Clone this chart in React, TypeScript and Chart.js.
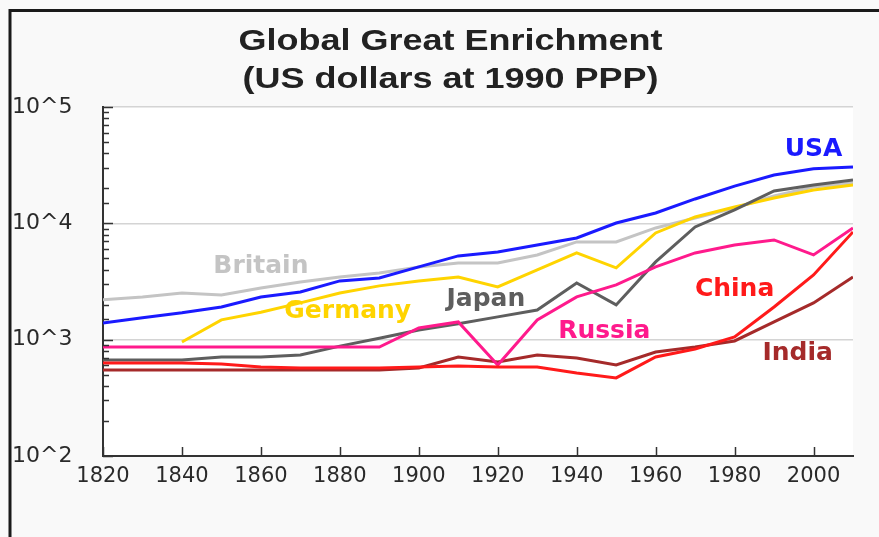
import React, { useEffect, useRef } from 'react';
import { Chart, registerables } from 'chart.js';

Chart.register(...registerables);

const titleLines = ['Global Great Enrichment', '(US dollars at 1990 PPP)'];

const years = [1820, 1830, 1840, 1850, 1860, 1870, 1880, 1890, 1900, 1910, 1920, 1930, 1940, 1950, 1960, 1970, 1980, 1990, 2000, 2010];

const usa = [1390, 1540, 1700, 1910, 2330, 2570, 3200, 3390, 4220, 5250, 5680, 6520, 7480, 10070, 12270, 16200, 20900, 26000, 29400, 30500];
const china = [631, 631, 631, 618, 582, 571, 571, 571, 582, 594, 582, 582, 517, 469, 710, 832, 1055, 1911, 3600, 8440];
const russia = [865, 865, 865, 865, 865, 865, 865, 865, 1260, 1420, 606, 1477, 2330, 2953, 4218, 5565, 6520, 7195, 5350, 9130];
const japan = [669, 669, 669, 710, 710, 738, 880, 1030, 1210, 1370, 1570, 1800, 3070, 1990, 4660, 9310, 13040, 19000, 21390, 23620];
const germany = [null, null, 955, 1480, 1720, 2070, 2520, 2900, 3200, 3460, 2840, 3980, 5570, 4140, 8270, 11350, 13830, 16530, 19370, 21380];
const britain = [2200, 2330, 2520, 2420, 2780, 3130, 3460, 3750, 4220, 4570, 4570, 5350, 6920, 6920, 9130, 11120, 13550, 17200, 20550, 22240];
const india = [548, 548, 548, 548, 548, 548, 548, 548, 570, 710, 643, 738, 696, 606, 784, 865, 975, 1420, 2068, 3460];

const seriesNames = ['USA', 'China', 'Russia', 'Japan', 'Germany', 'Britain', 'India'];
const seriesValues = [usa, china, russia, japan, germany, britain, india];
const seriesColors = ['#1a1aff', '#ff1a1a', '#ff1a8c', '#5e5e5e', '#ffd400', '#c4c4c4', '#a52a2a'];

// label anchor points (year, value) for each series name
const labelYears = [2000, 1980, 1947, 1917, 1882, 1860, 1996];
const labelValues = [42760, 2675, 1165, 2195, 1730, 4217, 754];

const xTicks = [1820, 1840, 1860, 1880, 1900, 1920, 1940, 1960, 1980, 2000];
const xMin = 1820;
const xMax = 2010;
const yMin = 100;
const yMax = 100000;

const isPow10 = (v: number) => {
  const e = Math.log10(v);
  return Math.abs(e - Math.round(e)) < 1e-9;
};

const backgroundPlugin = {
  id: 'bgPlugin',
  beforeDraw(chart: any) {
    const { ctx, chartArea, width, height } = chart;
    ctx.save();
    ctx.fillStyle = '#f9f9f9';
    ctx.fillRect(0, 0, width, height);
    ctx.fillStyle = '#ffffff';
    ctx.fillRect(chartArea.left, chartArea.top, chartArea.right - chartArea.left, chartArea.bottom - chartArea.top);
    ctx.restore();
  },
};

const decorPlugin = {
  id: 'decorPlugin',
  afterDraw(chart: any) {
    const { ctx, chartArea, width, height, scales } = chart;
    ctx.save();
    // frame lines
    ctx.strokeStyle = '#1a1a1a';
    ctx.lineWidth = 3;
    ctx.beginPath();
    ctx.moveTo(10, height);
    ctx.lineTo(10, 10.5);
    ctx.lineTo(width, 10.5);
    ctx.stroke();

    // inward tick marks
    ctx.strokeStyle = '#333333';
    ctx.lineWidth = 1.5;
    const ys = scales.y;
    ys.ticks.forEach((t: any) => {
      const y = Math.round(ys.getPixelForValue(t.value)) + 0.5;
      const len = isPow10(t.value) ? 10 : 6;
      ctx.beginPath();
      ctx.moveTo(chartArea.left, y);
      ctx.lineTo(chartArea.left + len, y);
      ctx.stroke();
    });
    const xs = scales.x;
    xs.ticks.forEach((t: any) => {
      const x = Math.round(xs.getPixelForValue(t.value)) + 0.5;
      ctx.beginPath();
      ctx.moveTo(x, chartArea.bottom);
      ctx.lineTo(x, chartArea.bottom - 9);
      ctx.stroke();
    });

    // title
    ctx.fillStyle = '#222222';
    ctx.font = 'bold 30px "Liberation Sans", Arial, sans-serif';
    ctx.textAlign = 'center';
    ctx.textBaseline = 'alphabetic';
    ctx.save();
    ctx.translate(width / 2 + 11, 0);
    ctx.scale(1.2, 1);
    ctx.fillText(titleLines[0], 0, 50);
    ctx.fillText(titleLines[1], 0, 88);
    ctx.restore();

    // series labels
    ctx.font = 'bold 25px "DejaVu Sans", sans-serif';
    ctx.textAlign = 'center';
    ctx.textBaseline = 'middle';
    seriesNames.forEach((name, i) => {
      const x = xs.getPixelForValue(labelYears[i]);
      const y = ys.getPixelForValue(labelValues[i]);
      ctx.fillStyle = seriesColors[i];
      ctx.fillText(name, x, y);
    });
    ctx.restore();
  },
};

export default function App() {
  const canvasRef = useRef<HTMLCanvasElement | null>(null);

  useEffect(() => {
    if (!canvasRef.current) return;
    const datasets = seriesNames.map((name, i) => ({
      label: name,
      data: years.map((yr, j) => ({ x: yr, y: seriesValues[i][j] })),
      borderColor: seriesColors[i],
      backgroundColor: seriesColors[i],
      borderWidth: 3,
      pointRadius: 0,
      tension: 0,
      spanGaps: false,
      fill: false,
    }));

    const chart = new Chart(canvasRef.current, {
      type: 'line',
      data: { datasets },
      options: {
        animation: false,
        responsive: false,
        maintainAspectRatio: false,
        devicePixelRatio: 1,
        layout: { padding: { left: 12, right: 26, top: 107, bottom: 0 } },
        plugins: {
          legend: { display: false },
          title: { display: false },
          tooltip: { enabled: false },
        },
        scales: {
          x: {
            type: 'linear',
            min: xMin,
            max: xMax,
            afterFit(scale: any) {
              scale.height = 81;
            },
            afterBuildTicks(scale: any) {
              scale.ticks = xTicks.map((v) => ({ value: v }));
            },
            grid: { display: false, drawTicks: false },
            border: { display: true, color: '#333333', width: 2 },
            ticks: {
              autoSkip: false,
              maxRotation: 0,
              padding: 8,
              color: '#2a2a2a',
              font: { family: '"DejaVu Sans", sans-serif', size: 21 },
              callback: (v: any) => String(v),
            },
          },
          y: {
            type: 'logarithmic',
            min: yMin,
            max: yMax,
            afterFit(scale: any) {
              scale.width = 91;
            },
            grid: {
              drawTicks: false,
              color: (c: any) => (c.tick && isPow10(c.tick.value) ? '#d4d4d4' : 'rgba(0,0,0,0)'),
              lineWidth: 1.5,
            },
            border: { display: true, color: '#333333', width: 2 },
            ticks: {
              autoSkip: false,
              crossAlign: 'far',
              color: '#2a2a2a',
              font: { family: '"DejaVu Sans", sans-serif', size: 22 },
              callback: (v: any) => {
                const n = Number(v);
                return isPow10(n) ? '10^' + Math.round(Math.log10(n)) : '';
              },
            },
          },
        },
      },
      plugins: [backgroundPlugin, decorPlugin],
    } as any);

    return () => chart.destroy();
  }, []);

  return (
    <div style={{ position: 'fixed', left: 0, top: 0, width: 879, height: 537 }}>
      <canvas ref={canvasRef} width={879} height={537} style={{ display: 'block' }} />
    </div>
  );
}
